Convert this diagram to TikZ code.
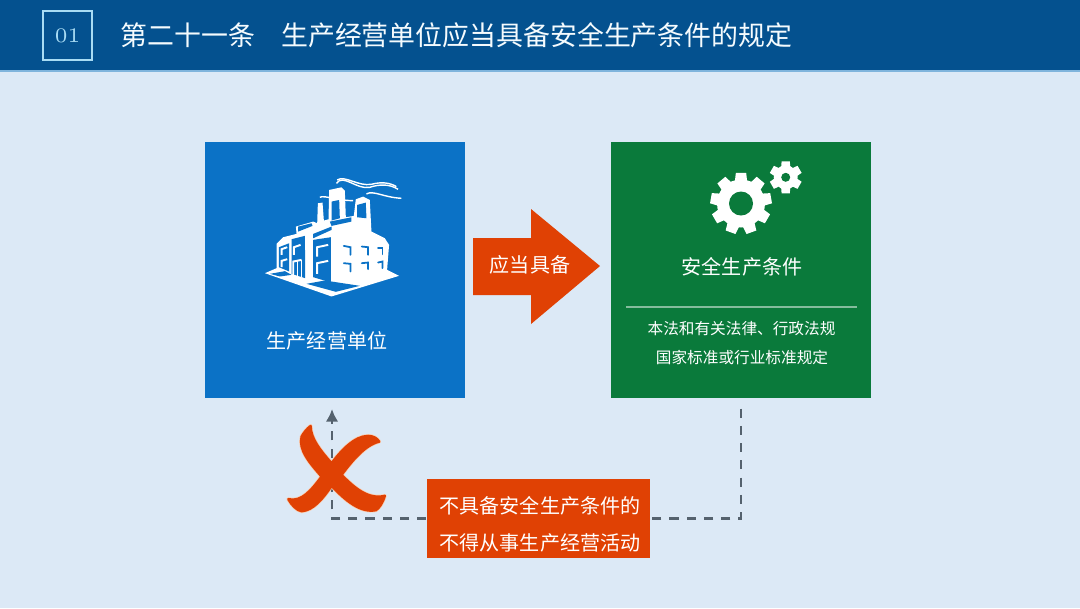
\documentclass[tikz,border=0pt]{standalone}
\usepackage{fontspec}
\newfontfamily\cjkfont{Noto Sans CJK SC}
\usetikzlibrary{positioning,arrows.meta,calc}
\definecolor{pagebg}{HTML}{DCE9F6}
\definecolor{headblue}{HTML}{04518F}
\definecolor{headline}{HTML}{7FB4DC}
\definecolor{framecol}{HTML}{A9DCF4}
\definecolor{unitblue}{HTML}{0B72C6}
\definecolor{safegreen}{HTML}{0A7A3B}
\definecolor{alertred}{HTML}{E04104}
\definecolor{dashgrey}{HTML}{55626E}
\definecolor{crossrim}{HTML}{F9CDB0}
% one gear: x, y, outer radius, root radius, hole radius, teeth
\newcommand{\gearwheel}[6]{
    \fill[white] (#1,#2) circle (#4);
    \pgfmathsetmacro{\toothstep}{360/#6}
    \foreach \k in {1,...,#6} {
        \pgfmathsetmacro{\toothang}{270+\k*\toothstep}
        \pgfmathsetmacro{\spreada}{0.38*\toothstep}
        \pgfmathsetmacro{\spreadb}{0.24*\toothstep}
        \fill[white] ($(#1,#2)+(\toothang-\spreada:#4*0.97)$) -- ($(#1,#2)+(\toothang-\spreadb:#3)$) -- ($(#1,#2)+(\toothang+\spreadb:#3)$) -- ($(#1,#2)+(\toothang+\spreada:#4*0.97)$) -- cycle;
    }
    \fill[safegreen] (#1,#2) circle (#5);
}
\newcommand{\crossoutline}{(122,78) .. controls (122,115) and (150,150) .. (185,190) .. controls (215,150) and (255,108) .. (295,108) .. controls (310,108) and (322,115) .. (328,125) .. controls (285,135) and (245,185) .. (215,225) .. controls (255,265) and (295,300) .. (345,288) .. controls (338,310) and (328,325) .. (318,331) .. controls (270,340) and (225,300) .. (185,258) .. controls (160,295) and (130,332) .. (95,334) .. controls (80,332) and (65,315) .. (55,298) .. controls (95,308) and (125,270) .. (155,230) .. controls (120,190) and (85,150) .. (95,110) .. controls (100,100) and (112,85) .. (122,78) -- cycle}

\begin{document}
\begin{tikzpicture}[x=0.01cm,y=-0.01cm,
    boxnode/.style={inner sep=0pt,minimum width=2.6cm,minimum height=2.56cm},
    textlabel/.style={text=white,inner sep=0pt,font=\cjkfont\fontsize{5.7pt}{7pt}\selectfont},
    smalllabel/.style={text=white,inner sep=0pt,font=\cjkfont\fontsize{4.45pt}{6pt}\selectfont},
    flowline/.style={dashgrey,line width=0.8pt,dash pattern=on 2.6pt off 2.3pt},
    facetone/.style={unitblue,line width=0.5pt,line cap=round}]
    \useasboundingbox (0,0) rectangle (1080,608);
    \fill[pagebg] (0,0) rectangle (1080,608);

    % header
    \fill[headblue] (0,0) rectangle (1080,70);
    \fill[headline] (0,70) rectangle (1080,72);
    \node[draw=framecol,line width=0.45pt,inner sep=0pt,minimum width=0.49cm,minimum height=0.49cm,text=framecol,font=\fontsize{5.9pt}{7pt}\selectfont] (number) at (67.5,35.5) {01};
    \node[anchor=west,inner sep=0pt,text=white!88!framecol,font=\cjkfont\fontsize{7.65pt}{9pt}\selectfont] (title) at (120,35.5) {第二十一条\hspace{7.4pt}生产经营单位应当具备安全生产条件的规定};

    % boxes
    \node[boxnode,fill=unitblue] (unit) at (335,270) {};
    \node[boxnode,fill=safegreen] (safety) at (741,270) {};
    \node[textlabel] (unitlabel) at (327,341) {生产经营单位};
    \node[textlabel] (safetylabel) at (742,267) {安全生产条件};
    \draw[white!50!safegreen,line width=0.3pt] (626,307) -- (857,307);
    \node[smalllabel] (lawline) at (741.5,329) {本法和有关法律、行政法规};
    \node[smalllabel] (stdline) at (742,358) {国家标准或行业标准规定};

    % big arrow
    \fill[alertred] (473,238) -- (531,238) -- (531,209) -- (600,266) -- (531,324) -- (531,295) -- (473,295) -- cycle;
    \node[textlabel] (mustlabel) at (530,265) {应当具备};

    % gears
    \gearwheel{741}{203.5}{31}{24}{12}{9}
    \gearwheel{785.7}{177.3}{16.5}{12}{4.5}{6}

    % factory
    \begin{scope}[shift={(230,160)},x=0.003333cm,y=-0.003333cm]
        \fill[white] (105,340) -- (140,325) -- (140,252) -- (160,232) -- (200,222) -- (198,200) -- (250,185) -- (262,190) -- (264,130) -- (278,128) -- (282,182) -- (296,178) -- (298,90) -- (335,82) -- (345,92) -- (348,172) -- (372,168) -- (378,118) -- (400,110) -- (420,120) -- (425,215) -- (465,235) -- (478,255) -- (472,330) -- (508,348) -- (305,410) -- cycle;
        % panels
        \foreach \a/\b/\c/\d/\e/\f/\g/\h in {147/262/178/250/178/335/147/322, 185/238/225/228/226/355/185/342, 250/240/303/232/303/368/250/352, 230/372/285/362/390/378/318/396, 120/342/165/334/185/345/150/350, 205/200/245/190/248/198/205/215, 250/222/305/200/305/210/250/235, 300/185/365/172/365/185/305/198, 305/125/328/120/330/175/305/182, 382/135/408/128/410/175/382/172} {
            \fill[unitblue] (\a,\b) -- (\c,\d) -- (\e,\f) -- (\g,\h) -- cycle;
        }
        % frames on the panels
        \foreach \a/\b/\c/\d/\e/\f in {262/290/262/262/295/255, 262/342/262/310/295/303, 192/285/192/262/212/255, 190/345/190/305/215/300, 155/285/155/268/172/262, 155/322/155/303/172/298} {
            \draw[white,line width=0.55pt] (\a,\b) -- (\c,\d) -- (\e,\f);
        }
        \draw[white,line width=0.4pt] (203,303) -- (203,348);
        \draw[white,line width=0.4pt] (215,300) -- (215,352);
        % windows
        \foreach \a/\b/\c/\d/\e/\f in {342/258/362/262/362/285, 396/260/415/262/415/285, 445/265/458/265/458/283, 342/310/362/312/362/335, 396/310/415/308/415/328, 445/308/458/305/458/325} {
            \draw[facetone] (\a,\b) -- (\c,\d) -- (\e,\f);
        }
        % smoke
        \draw[white,line width=0.4pt] (320,70) .. controls (340,40) and (380,90) .. (420,82) .. controls (450,72) and (480,72) .. (505,88);
        \draw[white,line width=0.4pt] (322,60) .. controls (345,45) and (385,80) .. (425,73) .. controls (455,65) and (480,68) .. (500,80);
        \draw[white,line width=0.4pt] (410,102) .. controls (430,90) and (460,112) .. (515,115);
        \draw[white,line width=0.4pt] (270,112) .. controls (285,105) and (320,122) .. (370,122);
    \end{scope}

    % return path
    \node[fill=alertred,inner sep=0pt,minimum width=2.23cm,minimum height=0.79cm] (notice) at (538.5,518.5) {};
    \coordinate (unitfoot) at (332,409);
    \draw[flowline,shorten <=2.8pt] (safety.south) |- (notice.east);
    \draw[flowline] (notice.west) -| (332,421);
    \draw[dashgrey,line width=0.8pt,-{Latex[length=3.6pt,width=3.6pt]}] (332,424) -- (unitfoot);
    \node[textlabel] (noticea) at (540,506) {不具备安全生产条件的};
    \node[textlabel] (noticeb) at (540,543) {不得从事生产经营活动};

    % cross
    \begin{scope}[shift={(270,400)},x=0.003333cm,y=-0.003333cm]
        \draw[crossrim,line width=1.1pt,line join=round] \crossoutline;
        \fill[alertred,draw=alertred,line width=0.7pt,line join=round] \crossoutline;
    \end{scope}
\end{tikzpicture}
\end{document}
